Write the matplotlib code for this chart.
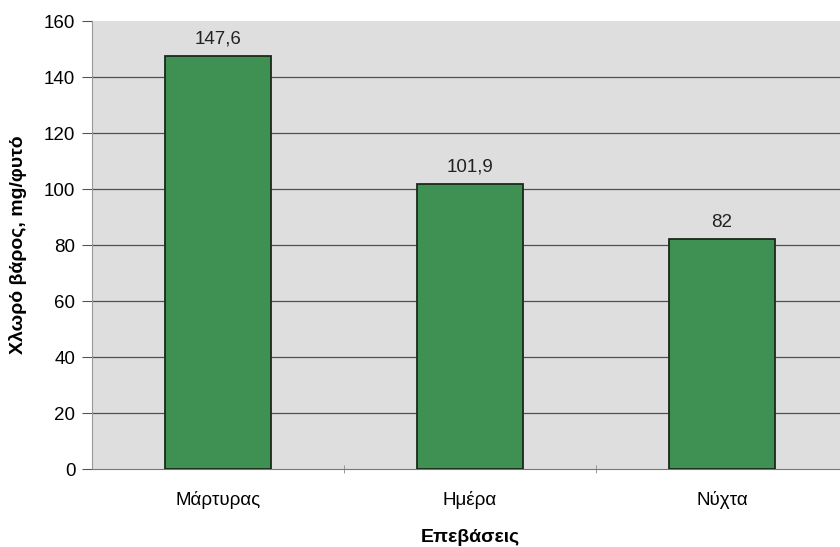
import matplotlib
matplotlib.use("Agg")
import matplotlib.pyplot as plt
import numpy as np

categories = ["Μάρτυρας", "Ημέρα", "Νύχτα"]
values = [147.6, 101.9, 82]
value_labels = ["147,6", "101,9", "82"]
yticks = [0, 20, 40, 60, 80, 100, 120, 140, 160]

plt.rcParams['font.family'] = ['Liberation Sans', 'DejaVu Sans']
plt.rcParams['hatch.color'] = '#9a9a9a'
plt.rcParams['hatch.linewidth'] = 0.8

fig = plt.figure(figsize=(8.4, 5.47), dpi=100)
ax = fig.add_axes([92/840, 1-469/547, 756/840, 448/547])
ax.set_facecolor('#dedede')
ax.add_patch(plt.Rectangle((0, 0), 1, 1, transform=ax.transAxes, facecolor='#dedede',
                           edgecolor='none', hatch='....', zorder=0))

x = np.arange(len(categories))
ax.set_xlim(-0.5, len(categories) - 0.5)
ax.set_ylim(0, 160)
ax.set_yticks(yticks)
ax.hlines(yticks[1:-1], -0.5, len(categories) - 0.5, colors='#505050', linewidth=0.9, zorder=1)

bars = ax.bar(x, values, width=0.42, color='#3e9053', edgecolor='#1a2a1a', linewidth=1.3, zorder=3)
for xi, v, lab in zip(x, values, value_labels):
    ax.text(xi, v + 3, lab, ha='center', va='bottom', fontsize=13.5, color='#222222')

ax.set_xticks(x)
ax.set_xticklabels(categories, fontsize=13.5)
ax.set_xticks([0.5, 1.5], minor=True)
ax.tick_params(axis='x', which='major', length=0, pad=16)
ax.tick_params(axis='x', which='minor', length=6, color='#888888', direction='inout')
ax.tick_params(axis='y', length=7, color='#555555', labelsize=13.5, pad=5)

for s in ['top', 'right']:
    ax.spines[s].set_visible(False)
ax.spines['left'].set_color('#999999')
ax.spines['bottom'].set_color('#777777')

ax.set_xlabel("Επεβάσεις", fontsize=14, fontweight='bold', labelpad=14)
ax.set_ylabel("Χλωρό βάρος, mg/φυτό", fontsize=14, fontweight='bold', labelpad=12)

fig.savefig("out.png", dpi=100)
